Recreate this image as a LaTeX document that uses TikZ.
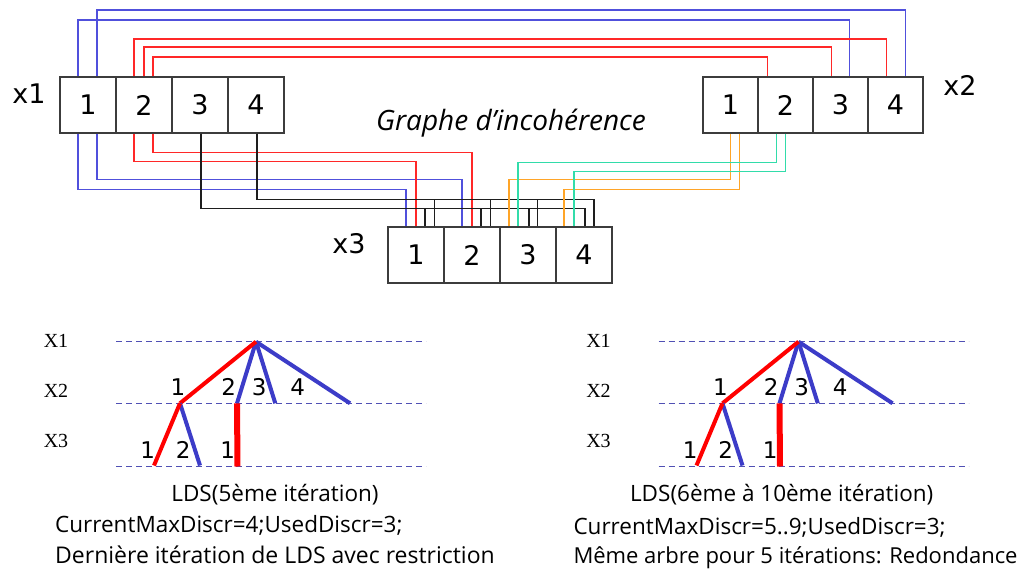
\documentclass[tikz,border=0pt]{standalone}
\usepackage{fontspec}
\usetikzlibrary{calc}
\newfontfamily\dvs{DejaVu Sans}
\newfontfamily\tms{Liberation Serif}
\newfontfamily\cms{Open Sans}
\definecolor{cb}{RGB}{80,80,220}
\definecolor{cr}{RGB}{255,40,40}
\definecolor{cg}{RGB}{50,220,170}
\definecolor{co}{RGB}{255,165,40}
\definecolor{ck}{RGB}{30,30,30}
\definecolor{bx}{RGB}{60,60,60}
\definecolor{tr}{RGB}{255,0,0}
\definecolor{tb}{RGB}{60,60,200}
\definecolor{dl}{RGB}{80,80,180}
\tikzset{
  cell/.style={draw=bx, line width=1.5pt, minimum width=56pt, minimum height=56pt, inner sep=0pt, font=\dvs\fontsize{27}{27}\selectfont},
  cellb/.style={cell, minimum width=55pt},
  vlab/.style={inner sep=0pt, font=\dvs\fontsize{27}{27}\selectfont},
  ttl/.style={inner sep=0pt, font=\cms\itshape\fontsize{28}{28}\selectfont},
  wire/.style={line width=1.5pt},
  wb/.style={wire, draw=cb}, wr/.style={wire, draw=cr}, wg/.style={wire, draw=cg},
  wo/.style={wire, draw=co}, wk/.style={wire, draw=ck},
  dline/.style={draw=dl, line width=1pt, dash pattern=on 6pt off 4pt},
  tred/.style={draw=tr, line width=4pt},
  tblu/.style={draw=tb, line width=4pt},
  tnum/.style={inner sep=0pt, font=\dvs\fontsize{23}{23}\selectfont},
  xlab/.style={inner sep=0pt, font=\tms\fontsize{20}{20}\selectfont},
  txt/.style={inner sep=0pt, font=\cms\fontsize{22.5}{22.5}\selectfont}
}
\begin{document}
\begin{tikzpicture}[x=1pt,y=-1pt]
\useasboundingbox[fill=white] (0,0) rectangle (1031,572);
% boxes
\node[cell] (a1) at (88,105) {1};
\node[cell] (a2) at (144,105) {2};
\node[cell] (a3) at (200,105) {3};
\node[cell] (a4) at (256,105) {4};
\node[cellb] (b1) at (730.5,105) {1};
\node[cellb] (b2) at (785.5,105) {2};
\node[cellb] (b3) at (840.5,105) {3};
\node[cellb] (b4) at (895.5,105) {4};
\node[cell] (c1) at (416,255) {1};
\node[cell] (c2) at (472,255) {2};
\node[cell] (c3) at (528,255) {3};
\node[cell] (c4) at (584,255) {4};
\node[vlab] (lx1) at (29,94) {x1};
\node[vlab] (lx2) at (960,85) {x2};
\node[vlab] (lx3) at (349,244) {x3};
\node[ttl] (title) at (511,123) {Graphe d’incohérence};
% top wires x1 -> x2
\draw[wb] ([xshift=-10pt]a1.north) -- ++(0,-56) -| ([xshift=9pt]b3.north);
\draw[wb] ([xshift=9pt]a1.north) -- ++(0,-66) -| ([xshift=10pt]b4.north);
\draw[wr] ([xshift=-10pt]a2.north) -- ++(0,-37) -| ([xshift=-9pt]b4.north);
\draw[wr] (a2.north) -- ++(0,-29) -| ([xshift=-9pt]b3.north);
\draw[wr] ([xshift=9pt]a2.north) -- ++(0,-19) -| ([xshift=-18pt]b2.north);
% bottom wires x1 -> x3
\draw[wb] ([xshift=-10pt]a1.south) -- ++(0,56) -| ([xshift=-10pt]c1.north);
\draw[wb] ([xshift=9pt]a1.south) -- ++(0,46) -| ([xshift=-10pt]c2.north);
\draw[wr] ([xshift=-10pt]a2.south) -- ++(0,28) -| (c1.north);
\draw[wr] ([xshift=9pt]a2.south) -- ++(0,19) -| (c2.north);
\foreach \c/\d in {c1/9,c2/9,c3/1,c4/1}
  \draw[wk] ([xshift=1pt]a3.south) -- ++(0,75) -| ([xshift=\d pt]\c.north);
\foreach \c/\d in {c1/18.5,c2/18.5,c3/9.5,c4/10}
  \draw[wk] ([xshift=1pt]a4.south) -- ++(0,66) -| ([xshift=\d pt]\c.north);
% x2 -> x3
\draw[wo] (b1.south) -- ++(0,46) -| ([xshift=-19pt]c3.north);
\draw[wo] ([xshift=9pt]b1.south) -- ++(0,56) -| ([xshift=-20pt]c4.north);
\draw[wg] ([xshift=-9pt]b2.south) -- ++(0,29) -| ([xshift=-10pt]c3.north);
\draw[wg] (b2.south) -- ++(0,38) -| ([xshift=-10pt]c4.north);
% trees
\foreach \s/\n in {0/L,542.5/R}{
\begin{scope}[xshift=\s pt]
  \draw[dline] (116,341.7) -- (426,341.7);
  \draw[dline] (116,403.3) -- (426,403.3);
  \draw[dline] (116,466.7) -- (426,466.7);
  \node[xlab] (X1\n) at (56,341) {X1};
  \node[xlab] (X2\n) at (56,390.5) {X2};
  \node[xlab] (X3\n) at (56,440.5) {X3};
  \coordinate (r\n) at (256,341.7);
  \coordinate (n1\n) at (180,403.3);
  \coordinate (n2\n) at (237,403.3);
  \coordinate (n3\n) at (275.3,403.3);
  \coordinate (n4\n) at (350,403.3);
  \coordinate (m1\n) at (154,465.5);
  \coordinate (m2\n) at (200,465.5);
  \coordinate (m3\n) at (237.5,466.5);
  \draw[tblu] (r\n) -- (n2\n);
  \draw[tblu] (r\n) -- (n3\n);
  \draw[tblu] (r\n) -- (n4\n);
  \draw[tred] (r\n) -- (n1\n);
  \draw[tblu] (n1\n) -- (m2\n);
  \draw[tred] (n1\n) -- (m1\n);
  \draw[tred, line width=6pt] (n2\n) -- (m3\n);
  \node[tnum] (l1\n) at (178,386.7) {1};
  \node[tnum] (l2\n) at (228.7,386.7) {2};
  \node[tnum] (l3\n) at (259.3,386.7) {3};
  \node[tnum] (l4\n) at (297.7,386.7) {4};
  \node[tnum] (k1\n) at (147.7,450) {1};
  \node[tnum] (k2\n) at (183.3,450) {2};
  \node[tnum] (k3\n) at (227.7,450) {1};
\end{scope}}
% texts
\node[txt, anchor=base] (tL1) at (275,501.7) {LDS(5ème itération)};
\node[txt, anchor=base west] (tL2) at (55,532.7) {CurrentMaxDiscr=4;UsedDiscr=3;};
\node[txt, anchor=base west, font=\cms\fontsize{23}{23}\selectfont] (tL3) at (55,563.3) {Dernière itération de LDS avec restriction};
\node[txt, anchor=base] (tR1) at (781.7,501.7) {LDS(6ème à 10ème itération)};
\node[txt, anchor=base west] (tR2) at (573.3,534) {CurrentMaxDiscr=5..9;UsedDiscr=3;};
\node[txt, anchor=base west, font=\cms\fontsize{22}{22}\selectfont] (tR3) at (573.3,563) {Même arbre pour 5 itérations: Redondance};
\end{tikzpicture}
\end{document}
